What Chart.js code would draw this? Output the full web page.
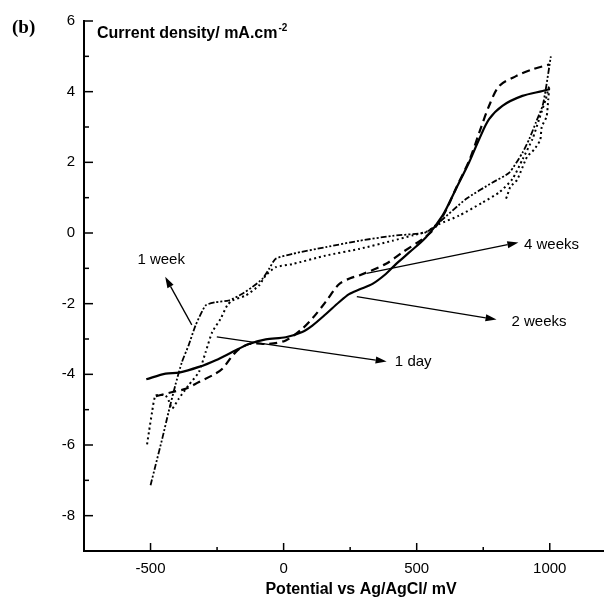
<!DOCTYPE html>
<html>
<head>
<meta charset="utf-8">
<script src="https://cdn.jsdelivr.net/npm/chart.js@4.4.0/dist/chart.umd.min.js"></script>
<style>
html, body { margin: 0; padding: 0; background: #fff; }
canvas { display: block; }
</style>
</head>
<body>
<canvas id="polChart" width="606" height="601"></canvas>
<script>
// ---- polarisation curves: potential (mV) vs current density (mA/cm2) ----
const day1X = [-513, -506, -494, -481, -444, -432, -419, -394, -357, -318, -293, -268, -237, -212, -193, -143, -93, -67, -30, 33, 158, 284, 409, 488, 538, 584, 659, 747, 810, 860, 898, 935, 960, 985, 998, 994, 988, 970, 964, 940, 915, 877, 852, 839, 833];
const day1Y = [-5.98, -5.63, -5.06, -4.6, -4.6, -4.74, -4.97, -4.69, -4.31, -3.93, -3.37, -2.8, -2.43, -2.05, -1.91, -1.77, -1.49, -1.2, -0.97, -0.88, -0.64, -0.45, -0.22, -0.06, 0.04, 0.25, 0.49, 0.86, 1.15, 1.53, 2.09, 2.66, 3.22, 3.79, 4.16, 3.76, 3.29, 3.01, 2.63, 2.35, 2.16, 1.5, 1.31, 1.03, 0.93];

const week1X = [-500, -481, -456, -432, -407, -382, -357, -331, -293, -256, -206, -155, -118, -80, -55, -30, 33, 158, 284, 409, 534, 584, 685, 785, 848, 898, 923, 948, 973, 985, 1004];
const week1Y = [-7.14, -6.57, -5.82, -5.06, -4.31, -3.65, -3.18, -2.62, -2.05, -1.96, -1.91, -1.72, -1.53, -1.3, -1.02, -0.73, -0.59, -0.4, -0.22, -0.08, 0.02, 0.3, 0.96, 1.43, 1.71, 2.28, 2.66, 3.13, 3.6, 4.07, 5.0];

const week2X = [-516, -443, -393, -318, -255, -193, -130, -67, 8, 70, 108, 158, 208, 246, 284, 334, 384, 422, 472, 535, 597, 647, 697, 735, 772, 822, 897, 973, 998];
const week2Y = [-4.14, -3.98, -3.95, -3.79, -3.6, -3.37, -3.14, -3.01, -2.95, -2.8, -2.62, -2.3, -1.96, -1.73, -1.6, -1.44, -1.16, -0.88, -0.55, -0.12, 0.49, 1.24, 2.0, 2.66, 3.22, 3.6, 3.88, 4.02, 4.07];

const week4X = [-480, -418, -368, -318, -268, -230, -180, -130, -55, 8, 70, 110, 158, 208, 250, 284, 383, 446, 522, 559, 600, 650, 700, 735, 772, 810, 873, 935, 998];
const week4Y = [-4.62, -4.5, -4.41, -4.22, -4.03, -3.84, -3.37, -3.14, -3.14, -3.04, -2.71, -2.4, -1.95, -1.45, -1.28, -1.2, -0.88, -0.55, -0.17, 0.06, 0.5, 1.3, 2.1, 2.84, 3.6, 4.16, 4.44, 4.63, 4.77];

const xTicks = [-500, 0, 500, 1000];
const xMinor = [-250, 250, 750];
const yTicks = [6, 4, 2, 0, -2, -4, -6, -8];
const yMinor = [5, 3, 1, -1, -3, -5, -7];

// arrow labels (data units)
const notes = [
    { text: '1 week',  from: [-345, -2.6],  to: [-445, -1.24], at: [-460, -0.76], align: 'center' },
    { text: '1 day',   from: [-251, -2.94], to: [387, -3.64],  at: [418, -3.64],  align: 'left' },
    { text: '2 weeks', from: [275, -1.8],   to: [800, -2.45],  at: [856, -2.52],  align: 'left' },
    { text: '4 weeks', from: [312, -1.14],  to: [882, -0.27],  at: [903, -0.34],  align: 'left' }
];

const SANS = '"Liberation Sans", Arial, sans-serif';

function toPoints(xs, ys) {
    return xs.map((x, i) => ({ x: x, y: ys[i] }));
}

function line(ctx, x1, y1, x2, y2) {
    ctx.beginPath(); ctx.moveTo(x1, y1); ctx.lineTo(x2, y2); ctx.stroke();
}

const decorPlugin = {
    id: 'decor',
    afterDraw(chart) {
        const ctx = chart.ctx;
        const sx = chart.scales.x, sy = chart.scales.y;
        const a = chart.chartArea;
        ctx.save();
        ctx.strokeStyle = '#000'; ctx.fillStyle = '#000'; ctx.lineWidth = 1.5;
        // inward ticks
        xTicks.forEach(v => { const p = sx.getPixelForValue(v); line(ctx, p, a.bottom, p, a.bottom - 8); });
        xMinor.forEach(v => { const p = sx.getPixelForValue(v); line(ctx, p, a.bottom, p, a.bottom - 4); });
        yTicks.forEach(v => { const p = sy.getPixelForValue(v); line(ctx, a.left, p, a.left + 9, p); });
        yMinor.forEach(v => { const p = sy.getPixelForValue(v); line(ctx, a.left, p, a.left + 5, p); });

        // arrows + labels
        ctx.lineWidth = 1.3;
        notes.forEach(n => {
            const x1 = sx.getPixelForValue(n.from[0]), y1 = sy.getPixelForValue(n.from[1]);
            const x2 = sx.getPixelForValue(n.to[0]), y2 = sy.getPixelForValue(n.to[1]);
            const ang = Math.atan2(y2 - y1, x2 - x1);
            const hl = 11, hw = 3.5;
            const bx = x2 - hl * Math.cos(ang), by = y2 - hl * Math.sin(ang);
            line(ctx, x1, y1, bx, by);
            ctx.beginPath();
            ctx.moveTo(x2, y2);
            ctx.lineTo(bx + hw * Math.sin(ang), by - hw * Math.cos(ang));
            ctx.lineTo(bx - hw * Math.sin(ang), by + hw * Math.cos(ang));
            ctx.closePath(); ctx.fill();
            ctx.font = '15px ' + SANS;
            ctx.textAlign = n.align; ctx.textBaseline = 'middle';
            ctx.fillText(n.text, sx.getPixelForValue(n.at[0]), sy.getPixelForValue(n.at[1]));
        });

        // titles
        ctx.textBaseline = 'alphabetic'; ctx.textAlign = 'left';
        ctx.font = 'bold 19px "Liberation Serif", "Times New Roman", serif';
        ctx.fillText('(b)', 12, 33);
        ctx.font = 'bold 16px ' + SANS;
        const t = 'Current density/ mA.cm';
        ctx.fillText(t, 97, 38);
        const w = ctx.measureText(t).width;
        ctx.font = 'bold 10px ' + SANS;
        ctx.fillText('-2', 97 + w + 1, 31);
        ctx.font = 'bold 16px ' + SANS;
        ctx.textAlign = 'center'; ctx.textBaseline = 'middle';
        ctx.fillText('Potential vs Ag/AgCl/ mV', 361, 590);
        ctx.restore();
    }
};

const ctx = document.getElementById('polChart').getContext('2d');
const myChart = new Chart(ctx, {
    type: 'line',
    data: {
        datasets: [
            { label: '1 day', data: toPoints(day1X, day1Y), borderColor: '#000', borderWidth: 2, borderDash: [2, 3], pointRadius: 0, tension: 0.2, fill: false },
            { label: '1 week', data: toPoints(week1X, week1Y), borderColor: '#000', borderWidth: 1.8, borderDash: [6, 2, 2, 2, 2, 2], pointRadius: 0, tension: 0.2, fill: false },
            { label: '2 weeks', data: toPoints(week2X, week2Y), borderColor: '#000', borderWidth: 2.2, pointRadius: 0, tension: 0.3, fill: false },
            { label: '4 weeks', data: toPoints(week4X, week4Y), borderColor: '#000', borderWidth: 2.2, borderDash: [8, 5], pointRadius: 0, tension: 0.3, fill: false }
        ]
    },
    options: {
        responsive: false,
        animation: false,
        events: [],
        layout: { padding: { top: 21, right: 3, left: 0, bottom: 0 } },
        plugins: { legend: { display: false }, tooltip: { enabled: false } },
        scales: {
            x: {
                type: 'linear', min: -750, max: 1200,
                afterBuildTicks: s => { s.ticks = xTicks.map(v => ({ value: v })); },
                afterFit: s => { s.height = 50; },
                grid: { display: false, drawTicks: false, tickLength: 0 },
                border: { display: true, color: '#000', width: 2 },
                ticks: { color: '#000', font: { family: SANS, size: 15 }, padding: 9, maxRotation: 0, autoSkip: false,
                         callback: v => String(v) }
            },
            y: {
                type: 'linear', min: -9, max: 6,
                afterBuildTicks: s => { s.ticks = yTicks.map(v => ({ value: v })); },
                afterFit: s => { s.width = 84; },
                grid: { display: false, drawTicks: false, tickLength: 0 },
                border: { display: true, color: '#000', width: 2 },
                ticks: { color: '#000', font: { family: SANS, size: 15 }, padding: 9, callback: v => String(v) }
            }
        }
    },
    plugins: [decorPlugin]
});
</script>
</body>
</html>
